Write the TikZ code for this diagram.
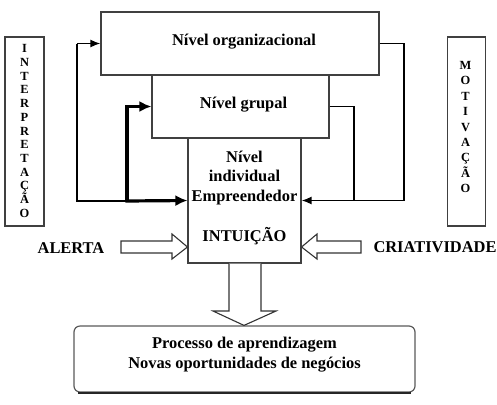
\documentclass[tikz,border=0pt]{standalone}
\usepackage{fontspec}
\setmainfont{Liberation Serif}
\usetikzlibrary{arrows.meta}
\begin{document}
\begin{tikzpicture}[x=1bp,y=-1bp,
  box/.style={draw=black!75,line width=1.1bp,rectangle,inner sep=0pt,fill=white},
  lbl/.style={font=\fontsize{16.5}{20}\selectfont\bfseries,inner sep=0pt,align=center},
  vlet/.style={font=\fontsize{12.5}{13.75}\selectfont\bfseries,inner sep=0pt,align=center},
  thinarr/.style={line width=1.6bp,-{Latex[length=10bp,width=8bp]}},
  thinline/.style={line width=1.6bp},
  thickarr/.style={line width=3.2bp,-{Latex[length=12bp,width=11bp]}},
  hollow/.style={draw=black!80,line width=1.1bp,fill=white}
]
\useasboundingbox (0,0) rectangle (497,404);
% side boxes
\node[box,minimum width=39bp,minimum height=189bp] (interp) at (24.5,131.5) {};
\node[vlet] (interpT) at (24.5,131) {I\\N\\T\\E\\R\\P\\R\\E\\T\\A\\Ç\\Ã\\O};
\node[box,minimum width=38bp,minimum height=189bp] (motiv) at (466.5,131.5) {};
\node[vlet,font=\fontsize{12.5}{15.5}\selectfont\bfseries] (motivT) at (465.5,127) {M\\O\\T\\I\\V\\A\\Ç\\Ã\\O};
% level boxes
\node[box,minimum width=278bp,minimum height=63bp] (org) at (240,43.5) {};
\node[lbl] (orgT) at (244,42) {Nível organizacional};
\node[box,minimum width=177bp,minimum height=63bp] (grp) at (240.5,106.5) {};
\node[lbl] (grpT) at (243.5,105) {Nível grupal};
\node[box,minimum width=113bp,minimum height=125bp] (ind) at (244.5,200.5) {};
\node[lbl] (indT) at (244.5,178) {Nível\\individual\\Empreendedor};
\node[lbl] (intu) at (244.5,236) {INTUIÇÃO};
% bottom box
\node[draw=black!65,line width=1.2bp,rounded corners=6bp,minimum width=341bp,minimum height=66bp,inner sep=0pt] (proc) at (244.5,359) {};
\draw[black!85,line width=2bp] ([xshift=5bp]proc.south west) -- ([xshift=-5bp]proc.south east);
\node[lbl] (procT) at (244.5,355) {Processo de aprendizagem\\Novas oportunidades de negócios};
% side labels
\node[lbl] (alerta) at (71,248) {ALERTA};
\node[lbl] (criat) at (435,247) {CRIATIVIDADE};
% feedback connectors left
\coordinate (jL) at (77,201);
\coordinate (jLt) at (127,201);
\draw[thinline] (jLt) -- (jL) -- (77,43.5) coordinate (cL);
\draw[thinarr] (cL) -- (org.west);
\draw[thickarr] (jLt) -- (127,106.5) -- (grp.west);
\draw[thickarr] ([xshift=-1.6bp]jLt) -- (ind.west);
% feedback connectors right
\coordinate (jR) at (404,200.5);
\coordinate (jRg) at (354,200.5);
\draw[thinline] (org.east) -- (404,43.5) -- (jR);
\draw[thinline] (grp.east) -- (354,106.5) -- (jRg);
\draw[thinarr] (jR) -- (ind.east);
% hollow arrows
\draw[hollow] (121,241) -- (172,241) -- (172,234) -- (ind.west |- 0,247) -- (172,259) -- (172,253) -- (121,253) -- cycle;
\draw[hollow] (361,241) -- (317,241) -- (317,234) -- (ind.east |- 0,247) -- (317,259) -- (317,253) -- (361,253) -- cycle;
\draw[hollow] (229,263.6) -- (229,311) -- (213,311) -- (proc.north -| 244,0) -- (276,311) -- (261,311) -- (261,263.6);
\end{tikzpicture}
\end{document}
